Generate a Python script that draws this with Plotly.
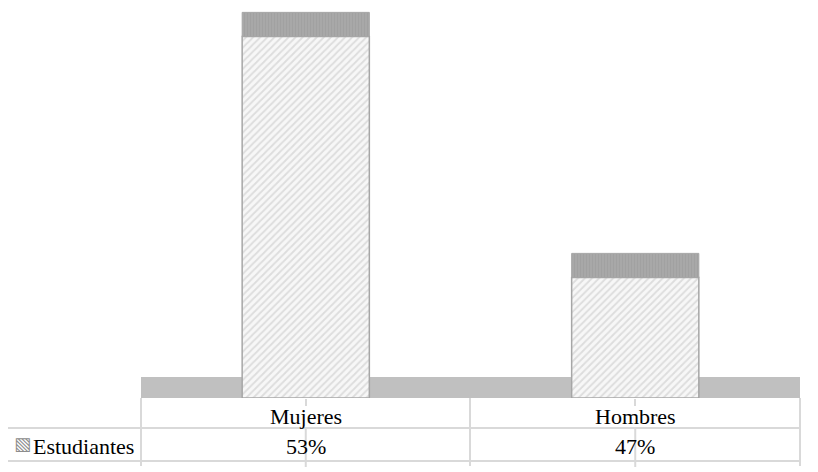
import plotly.graph_objects as go

# Data
categories = ["Mujeres", "Hombres"]
values = [53, 47]
series_name = "Estudiantes"

# Value axis does not start at zero (Excel 3D column chart)
AXIS_MIN = 44.0
DEPTH = 0.6  # 3D top face thickness, in axis units
PX_PER_UNIT = 40.17

# page has an 8px body margin, so the figure is drawn 8px in from the window corner
OFF = 8
W, H = 818 - OFF, 472 - OFF
# plot area in window pixels
PLOT_L, PLOT_R, PLOT_T, PLOT_B = 141, 800, OFF, 398
AXIS_MAX = AXIS_MIN + (PLOT_B - PLOT_T) / PX_PER_UNIT


def px_x(px):
    return (px - PLOT_L) / (PLOT_R - PLOT_L)


def px_y(py):
    return (PLOT_B - py) / (PLOT_B - PLOT_T)


GRID = "#d9d9d9"
FONT = "Liberation Serif, Times New Roman, serif"

fig = go.Figure()

# Front face of the columns
fig.add_trace(go.Bar(
    x=categories, y=[v - AXIS_MIN for v in values], base=AXIS_MIN,
    width=0.386, name=series_name, showlegend=False,
    marker=dict(color="#f4f4f4", line=dict(color="#a6a6a6", width=1.5),
                pattern=dict(shape="/", size=5, solidity=0.4,
                             fgcolor="#c4c4c4", bgcolor="#f7f7f7")),
))
# Top face of the columns
fig.add_trace(go.Bar(
    x=categories, y=[DEPTH] * len(values), base=values,
    width=0.386, showlegend=False,
    marker=dict(color="#a6a6a6", line=dict(color="#a6a6a6", width=1),
                pattern=dict(shape="|", size=3, solidity=0.3,
                             fgcolor="#999999", bgcolor="#a8a8a8")),
))

shapes = []
# floor
shapes.append(dict(type="rect", xref="paper", yref="y", x0=0, x1=1,
                   y0=AXIS_MIN, y1=AXIS_MIN + 0.52, fillcolor="#c0c0c0",
                   line=dict(width=0), layer="below"))
# data table borders
for xp in [141, 470, 800]:
    shapes.append(dict(type="line", xref="paper", yref="paper",
                       x0=px_x(xp), x1=px_x(xp), y0=px_y(398), y1=px_y(466),
                       line=dict(color=GRID, width=2)))
shapes.append(dict(type="line", xref="paper", yref="paper",
                   x0=px_x(7), x1=px_x(7), y0=px_y(428), y1=px_y(461),
                   line=dict(color=GRID, width=2)))
for yp in [428, 461]:
    shapes.append(dict(type="line", xref="paper", yref="paper",
                       x0=px_x(7), x1=px_x(800), y0=px_y(yp), y1=px_y(yp),
                       line=dict(color=GRID, width=2)))
# tick extensions through the values row
for c in categories:
    shapes.append(dict(type="line", xref="x", yref="paper", x0=c, x1=c,
                       y0=px_y(428), y1=px_y(467),
                       line=dict(color=GRID, width=2)))

annotations = []
for c, v in zip(categories, values):
    annotations.append(dict(x=c, xref="x", y=px_y(416), yref="paper",
                            xanchor="center", yanchor="middle",
                            text=c, showarrow=False,
                            font=dict(family=FONT, size=22, color="#000000")))
    annotations.append(dict(x=c, xref="x", y=px_y(446), yref="paper",
                            xanchor="center", yanchor="middle",
                            text=f"{v}%", showarrow=False,
                            font=dict(family=FONT, size=22, color="#000000")))
annotations.append(dict(x=px_x(22), xref="paper", y=px_y(443), yref="paper",
                        xanchor="center", yanchor="middle",
                        text="▧", showarrow=False,
                        font=dict(family="DejaVu Sans", size=18, color="#8c8c8c")))
annotations.append(dict(x=px_x(31), xref="paper", y=px_y(446), yref="paper",
                        xanchor="left", yanchor="middle",
                        text=series_name, showarrow=False,
                        font=dict(family=FONT, size=22, color="#000000")))

fig.update_layout(
    width=W, height=H,
    margin=dict(l=PLOT_L - OFF, r=818 - PLOT_R, t=0, b=472 - PLOT_B),
    paper_bgcolor="white", plot_bgcolor="white",
    barmode="overlay", showlegend=False,
    font=dict(family=FONT, size=22, color="#000000"),
    shapes=shapes, annotations=annotations,
    xaxis=dict(range=[-0.5, 1.5], showgrid=False, zeroline=False,
               showline=False, ticks="outside", ticklen=7, tickwidth=2,
               tickcolor=GRID, showticklabels=False),
    yaxis=dict(range=[AXIS_MIN, AXIS_MAX], visible=False),
)

fig.write_html("out.html")
